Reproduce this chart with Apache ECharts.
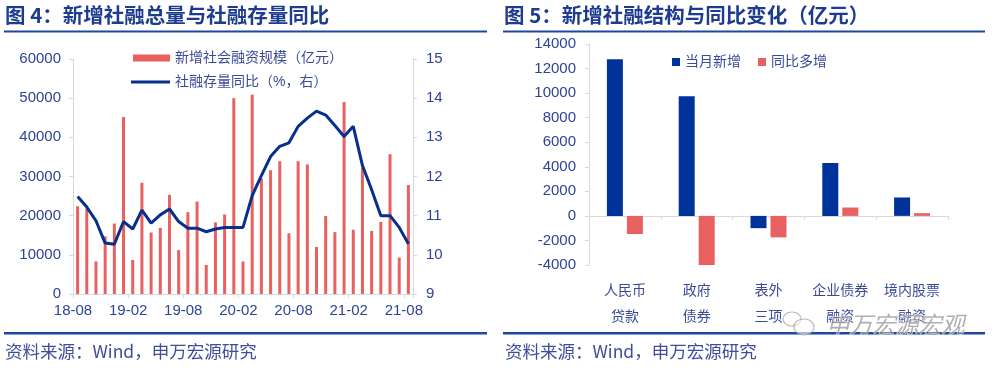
<!DOCTYPE html>
<html>
<head>
<meta charset="utf-8">
<script src="https://cdn.jsdelivr.net/npm/echarts@6/dist/echarts.min.js"></script>
<style>
html,body{margin:0;padding:0;background:#fff;}
#c{width:1000px;height:371px;}
</style>
</head>
<body>
<div id="c"></div>
<script>
// ---- Chart 4 data ----
const months = ['2018-08','2018-09','2018-10','2018-11','2018-12',
  '2019-01','2019-02','2019-03','2019-04','2019-05','2019-06','2019-07','2019-08','2019-09','2019-10','2019-11','2019-12',
  '2020-01','2020-02','2020-03','2020-04','2020-05','2020-06','2020-07','2020-08','2020-09','2020-10','2020-11','2020-12',
  '2021-01','2021-02','2021-03','2021-04','2021-05','2021-06','2021-07','2021-08'];
const newTSF = [22400,21700,8300,14700,18000,
  45200,8700,28400,15700,16900,25300,11200,20900,23600,7400,18300,20300,
  50000,8300,50900,29500,31600,33900,15500,33900,33100,12000,19900,15800,
  49000,16400,32300,16100,18400,35700,9300,27800];
const tsfGrowth = [11.49,11.22,10.87,10.30,10.27,
  10.85,10.66,11.14,10.81,11.02,11.17,10.85,10.68,10.68,10.59,10.66,10.70,
  10.70,10.70,11.51,12.02,12.51,12.77,12.86,13.28,13.49,13.67,13.57,13.30,
  13.02,13.28,12.28,11.66,11.00,11.00,10.70,10.28];
const xTickLabels4 = ['18-08','19-02','19-08','20-02','20-08','21-02','21-08'];

// ---- Chart 5 data ----
const cats5 = ['人民币\n贷款','政府\n债券','表外\n三项','企业债券\n融资','境内股票\n融资'];
const monthNew = [12750,9750,-1000,4300,1500];
const yoyChange = [-1480,-4000,-1750,680,220];

const FONT = "'Liberation Sans','Noto Sans CJK SC',sans-serif";
const LBL = '#2F4396';
const TXT = '#3A4A9A';
const AX = '#D9D9D9';
const RED = '#E8605F';
const NAVY = '#062F8E';
const BLUE = '#00339A';
const RULE = '#1C46A0';

const chart = echarts.init(document.getElementById('c'), null, {renderer:'canvas'});

const axLine = {show:true, lineStyle:{color:AX, width:1}};
const axTick = {show:true, length:4, lineStyle:{color:AX}};
const plain = function(v){ return String(v); };

chart.setOption({
  animation:false,
  backgroundColor:'#fff',
  textStyle:{fontFamily:FONT},
  grid:[
    {left:73, top:59, width:340, height:235},
    {left:589, top:44, width:359, height:221}
  ],
  legend:[
    {left:128, top:46, itemWidth:37, itemHeight:7, icon:'rect',
     data:['新增社会融资规模（亿元）'], textStyle:{color:TXT, fontSize:14, fontFamily:FONT}},
    {left:126, top:70, itemWidth:39, itemHeight:3,
     data:[{name:'社融存量同比（%，右）', icon:'rect', itemStyle:{color:NAVY}}],
     textStyle:{color:TXT, fontSize:14, fontFamily:FONT}},
    {left:667, top:50, itemWidth:8, itemHeight:8, icon:'rect', itemGap:17,
     data:['当月新增','同比多增'], textStyle:{color:TXT, fontSize:14, fontFamily:FONT}}
  ],
  xAxis:[
    {type:'category', gridIndex:0, data:months, boundaryGap:true,
     axisLine:axLine, axisTick:{show:false}, axisLabel:{show:false}},
    {type:'value', gridIndex:0, min:0, max:37, interval:6, position:'bottom',
     axisLine:{show:false}, axisTick:axTick, splitLine:{show:false},
     axisLabel:{color:LBL, fontSize:15, fontFamily:FONT, margin:9,
       formatter:function(v){return (v%6===0 && xTickLabels4[v/6]) ? xTickLabels4[v/6] : '';}}},
    {type:'category', gridIndex:1, data:cats5, boundaryGap:true,
     axisLine:axLine, axisTick:axTick,
     axisLabel:{color:TXT, fontSize:14, fontFamily:FONT, margin:13, lineHeight:26, interval:0}}
  ],
  yAxis:[
    {type:'value', gridIndex:0, min:0, max:60000, interval:10000,
     axisLine:axLine, axisTick:axTick, splitLine:{show:false},
     axisLabel:{color:LBL, fontSize:15, fontFamily:FONT, margin:12, formatter:plain}},
    {type:'value', gridIndex:0, min:9, max:15, interval:1, position:'right',
     axisLine:axLine, axisTick:axTick, splitLine:{show:false},
     axisLabel:{color:LBL, fontSize:15, fontFamily:FONT, margin:13, formatter:plain}},
    {type:'value', gridIndex:1, min:-4000, max:14000, interval:2000,
     axisLine:axLine, axisTick:axTick, splitLine:{show:false},
     axisLabel:{color:LBL, fontSize:15, fontFamily:FONT, margin:13, formatter:plain}}
  ],
  series:[
    {name:'新增社会融资规模（亿元）', type:'bar', xAxisIndex:0, yAxisIndex:0,
     data:newTSF, barWidth:3, itemStyle:{color:RED}},
    {name:'社融存量同比（%，右）', type:'line', xAxisIndex:0, yAxisIndex:1,
     data:tsfGrowth, symbol:'none', lineStyle:{color:NAVY, width:3}, itemStyle:{color:NAVY}, z:5},
    {name:'当月新增', type:'bar', xAxisIndex:2, yAxisIndex:2,
     data:monthNew, barWidth:16, barGap:'25%', itemStyle:{color:BLUE}},
    {name:'同比多增', type:'bar', xAxisIndex:2, yAxisIndex:2,
     data:yoyChange, barWidth:16, barGap:'25%', itemStyle:{color:RED}}
  ],
  graphic:[
    {type:'text', left:5, top:5, style:{text:'图 4：新增社融总量与社融存量同比', fill:'#1D3B8F', font:"bold 20.5px 'Noto Sans CJK SC', sans-serif"}},
    {type:'rect', shape:{x:4, y:30.5, width:483, height:2}, style:{fill:RULE}},
    {type:'rect', shape:{x:4, y:332, width:483, height:2.5}, style:{fill:RULE}},
    {type:'text', left:5, top:343, style:{text:'资料来源：Wind，申万宏源研究', fill:'#3F4E9A', font:"17.5px 'Noto Sans CJK SC', sans-serif"}},

    {type:'text', left:504, top:5, style:{text:'图 5：新增社融结构与同比变化（亿元）', fill:'#1D3B8F', font:"bold 20.5px 'Noto Sans CJK SC', sans-serif"}},
    {type:'rect', shape:{x:503, y:30.5, width:482, height:2}, style:{fill:RULE}},
    {type:'rect', shape:{x:503, y:332, width:482, height:2.5}, style:{fill:RULE}},
    {type:'text', left:505, top:343, style:{text:'资料来源：Wind，申万宏源研究', fill:'#3F4E9A', font:"17.5px 'Noto Sans CJK SC', sans-serif"}},

    {type:'text', left:826, top:312, z:100, style:{text:'申万宏源宏观', fill:'rgba(110,110,110,0.55)', stroke:'rgba(255,255,255,0.8)', lineWidth:1, font:"italic 23px 'Noto Sans CJK SC', sans-serif"}},
    {type:'ellipse', z:100, shape:{cx:792, cy:319, rx:9, ry:7}, style:{fill:'rgba(255,255,255,0.6)', stroke:'rgba(140,140,140,0.6)', lineWidth:1.2}},
    {type:'ellipse', z:100, shape:{cx:804, cy:327, rx:10, ry:8}, style:{fill:'rgba(255,255,255,0.6)', stroke:'rgba(140,140,140,0.6)', lineWidth:1.2}}
  ]
});
</script>
</body>
</html>
